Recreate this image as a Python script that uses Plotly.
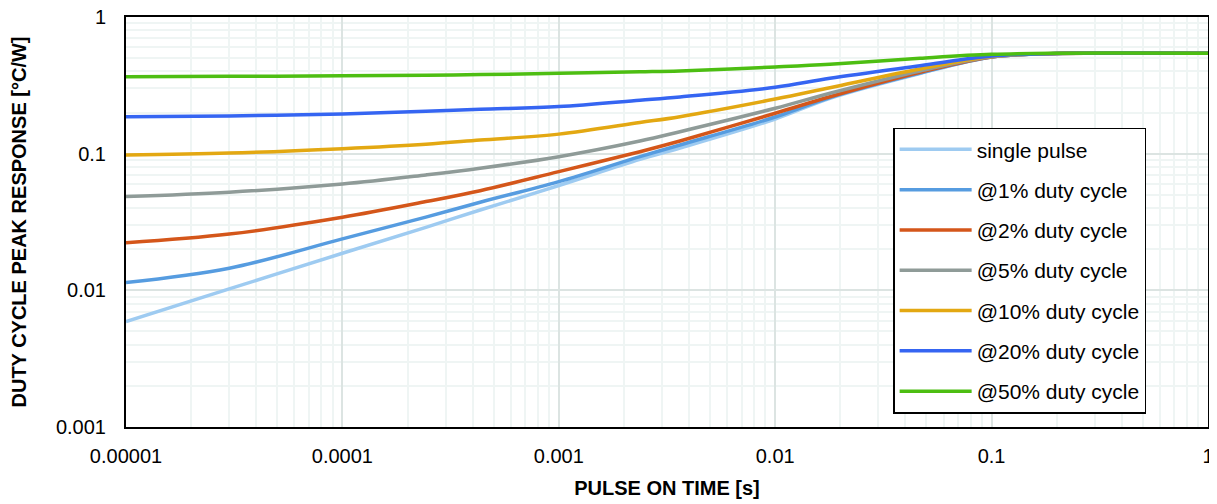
import plotly.graph_objects as go

# Pulse on time [s]
t = [1e-5, 3e-5, 1e-4, 2.43e-4, 4.33e-4, 1e-3, 2.37e-3, 3.63e-3, 1e-2, 1.79e-2, 4.67e-2, 0.1, 0.2, 1.0]

# Duty cycle peak response [°C/W]
single_pulse = [0.0059, 0.01024, 0.01868, 0.0289, 0.0387, 0.0585, 0.0910, 0.1101, 0.1794, 0.2543, 0.386, 0.510, 0.541, 0.543]
duty_1 = [0.01139, 0.0145, 0.0238, 0.0343, 0.0441, 0.0624, 0.0951, 0.1158, 0.1855, 0.2577, 0.389, 0.510, 0.541, 0.543]
duty_2 = [0.0223, 0.0258, 0.0343, 0.0446, 0.0536, 0.0739, 0.1034, 0.1238, 0.1975, 0.261, 0.394, 0.510, 0.541, 0.543]
duty_5 = [0.0485, 0.0522, 0.0600, 0.0699, 0.0782, 0.0951, 0.1238, 0.1448, 0.2148, 0.2766, 0.403, 0.512, 0.541, 0.543]
duty_10 = [0.0978, 0.1010, 0.1088, 0.1172, 0.1257, 0.139, 0.169, 0.1865, 0.251, 0.304, 0.4165, 0.514, 0.541, 0.543]
duty_20 = [0.1865, 0.189, 0.195, 0.204, 0.211, 0.221, 0.246, 0.260, 0.306, 0.356, 0.440, 0.518, 0.541, 0.543]
duty_50 = [0.366, 0.368, 0.371, 0.374, 0.379, 0.387, 0.397, 0.403, 0.431, 0.451, 0.499, 0.533, 0.543, 0.543]

series = [
    ("single pulse", single_pulse, "#9ECBF1"),
    ("@1% duty cycle", duty_1, "#569CE0"),
    ("@2% duty cycle", duty_2, "#D4561A"),
    ("@5% duty cycle", duty_5, "#8F9B98"),
    ("@10% duty cycle", duty_10, "#E3A812"),
    ("@20% duty cycle", duty_20, "#3565F2"),
    ("@50% duty cycle", duty_50, "#4DBE12"),
]

x_ticks = [1e-5, 1e-4, 1e-3, 1e-2, 1e-1, 1]
x_labels = ["0.00001", "0.0001", "0.001", "0.01", "0.1", "1"]
y_ticks = [0.001, 0.01, 0.1, 1]
y_labels = ["0.001", "0.01", "0.1", "1"]

FONT = "Liberation Sans, Arial, sans-serif"

fig = go.Figure()
for i, (name, vals, col) in enumerate(series):
    fig.add_trace(go.Scatter(
        x=t, y=vals, name=name, mode="lines",
        line=dict(color=col, width=3.5, shape="spline", smoothing=1.0),
        legendgroup=f"g{i}",
    ))

major_grid = "#DCE4E2"
minor_grid = "#EFF5F4"

# page body has an 8px default margin, so the figure is sized/offset accordingly
fig.update_layout(
    width=1209, height=496,
    margin=dict(l=118, r=9, t=9, b=77),
    paper_bgcolor="white", plot_bgcolor="white",
    font=dict(family=FONT, size=20, color="#000000"),
    showlegend=True,
    legend=dict(
        x=0.709, y=0.73, xanchor="left", yanchor="top",
        bgcolor="white", bordercolor="black", borderwidth=1.5,
        font=dict(family=FONT, size=21, color="#000000"),
        tracegroupgap=10, itemwidth=72,
    ),
    xaxis=dict(
        type="log", range=[-5, 0], automargin=False,
        tickmode="array", tickvals=x_ticks, ticktext=x_labels,
        ticklabeloverflow="allow",
        showgrid=True, gridcolor=major_grid, gridwidth=2,
        minor=dict(showgrid=True, gridcolor=minor_grid, gridwidth=2, dtick="D1"),
        showline=True, linecolor="black", linewidth=2, mirror=True,
        ticks="", ticklabelstandoff=10,
        title=dict(text="<b>PULSE ON TIME [s]</b>", font=dict(family=FONT, size=20), standoff=15),
        zeroline=False,
    ),
    yaxis=dict(
        type="log", range=[-3, 0], automargin=False,
        tickmode="array", tickvals=y_ticks, ticktext=y_labels,
        ticklabeloverflow="allow",
        showgrid=True, gridcolor=major_grid, gridwidth=2,
        minor=dict(showgrid=True, gridcolor=minor_grid, gridwidth=2, dtick="D1"),
        showline=True, linecolor="black", linewidth=2, mirror=True,
        ticks="", ticklabelstandoff=14,
        title=dict(text="<b>DUTY CYCLE PEAK RESPONSE [°C/W]</b>", font=dict(family=FONT, size=20), standoff=24),
        zeroline=False,
    ),
)

fig.write_html("out.html")
